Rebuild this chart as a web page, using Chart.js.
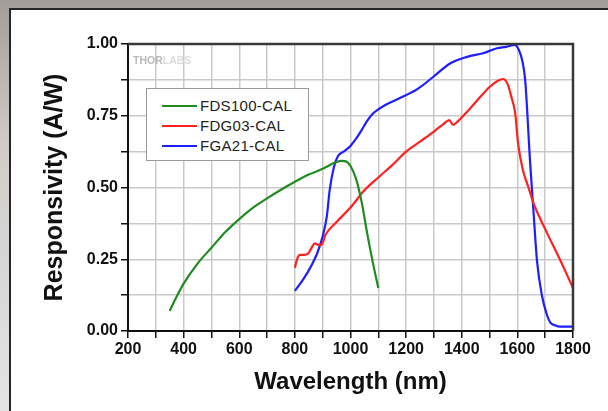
<!DOCTYPE html>
<html>
<head>
<meta charset="utf-8">
<script src="https://cdn.jsdelivr.net/npm/chart.js@4"></script>
<style>
    html, body {margin: 0; padding: 0;}
    body {
        width: 608px; height: 411px; overflow: hidden; position: relative;
        background: linear-gradient(to bottom, #a29d98 0%, #cfccc9 35%, #e4e4e4 100%);
        font-family: "Liberation Sans", Arial, sans-serif;
    }
    .panel {
        position: absolute; left: 9px; top: 8px; width: 620px; height: 420px;
        background: #fff; border: 2px solid #262626;
    }
    #chartWrap {position: absolute; left: 0; top: 0; width: 608px; height: 411px;}
    .watermark {
        position: absolute; left: 133px; top: 54px; font-size: 10.5px; font-weight: bold;
        color: #b9b9b9;
    }
    .watermark span {color: #dcdcdc;}
    .legendBox {
        position: absolute; left: 146px; top: 88px; width: 161px; height: 70px;
        border: 1px solid #9a9a9a; background: #fff; padding-top: 1px;
    }
    .legendRow {height: 20px; line-height: 20px; display: flex; align-items: center; margin-top: 0;}
    .legendRow:first-child {margin-top: 6px;}
    .legendLine {width: 35px; height: 2.5px; margin-left: 15px; margin-right: 3px;}
    .legendText {font-size: 15px; color: #222; letter-spacing: 0.3px;}
</style>
</head>
<body>
<div class="panel"></div>
<div id="chartWrap"><canvas id="myChart" width="608" height="411"></canvas></div>
<div class="watermark">THOR<span>LABS</span></div>
<div class="legendBox" id="legendBox"></div>

<script>
    "use strict";

    // x axis tick labels (nm) and y axis tick labels (A/W)
    const xTickLabels = [200, 400, 600, 800, 1000, 1200, 1400, 1600, 1800];
    const yTickLabels = [0, 0.25, 0.5, 0.75, 1];

    const seriesNames = ["FDS100-CAL", "FDG03-CAL", "FGA21-CAL"];
    const seriesColors = ["#208c20", "#ff2020", "#1e1eff"];

    // FDS100-CAL (green)
    const fds100Wl = [350, 375, 400, 450, 500, 550, 600, 650, 700, 750, 800, 850, 900, 940, 965, 980, 1000, 1020, 1040, 1060, 1080, 1100];
    const fds100Resp = [0.07, 0.12, 0.165, 0.235, 0.29, 0.345, 0.39, 0.43, 0.462, 0.492, 0.52, 0.545, 0.565, 0.585, 0.593, 0.592, 0.575, 0.53, 0.45, 0.34, 0.24, 0.15];

    // FDG03-CAL (red)
    const fdg03Wl = [800, 808, 818, 832, 848, 860, 872, 884, 896, 910, 950, 1000, 1050, 1100, 1150, 1200, 1250, 1300, 1335, 1355, 1369, 1380, 1394, 1430, 1466, 1500, 1530, 1549, 1565, 1580, 1592, 1603, 1620, 1640, 1660, 1700, 1750, 1800];
    const fdg03Resp = [0.22, 0.25, 0.265, 0.265, 0.27, 0.29, 0.305, 0.3, 0.3, 0.335, 0.38, 0.43, 0.49, 0.535, 0.578, 0.625, 0.66, 0.695, 0.722, 0.735, 0.718, 0.725, 0.738, 0.775, 0.815, 0.85, 0.872, 0.878, 0.86, 0.81, 0.76, 0.65, 0.56, 0.5, 0.44, 0.355, 0.255, 0.15];

    // FGA21-CAL (blue)
    const fga21Wl = [800, 830, 855, 880, 900, 915, 925, 940, 955, 975, 1000, 1020, 1040, 1060, 1080, 1100, 1130, 1178, 1239, 1297, 1358, 1419, 1477, 1527, 1560, 1590, 1605, 1618, 1628, 1646, 1657, 1671, 1689, 1705, 1718, 1735, 1754, 1800];
    const fga21Resp = [0.14, 0.18, 0.22, 0.27, 0.33, 0.4, 0.49, 0.57, 0.61, 0.625, 0.645, 0.67, 0.7, 0.732, 0.757, 0.772, 0.79, 0.812, 0.842, 0.885, 0.932, 0.955, 0.968, 0.985, 0.99, 0.997, 0.98, 0.94, 0.875, 0.585, 0.43, 0.24, 0.12, 0.06, 0.03, 0.02, 0.015, 0.015];

    function toPoints(xs, ys) {
        return xs.map(function (x, i) { return {x: x, y: ys[i]}; });
    }

    const seriesData = [
        toPoints(fds100Wl, fds100Resp),
        toPoints(fdg03Wl, fdg03Resp),
        toPoints(fga21Wl, fga21Resp)
    ];

    const tickFont = {family: "'Liberation Sans', Arial, sans-serif", size: 16, weight: "bold"};
    const titleFont = {family: "'Liberation Sans', Arial, sans-serif", weight: "bold", lineHeight: 1};

    // top and right frame of the plot box
    const frameBox = {
        id: "frameBox",
        afterDraw: function (chart) {
            const a = chart.chartArea;
            const ctx = chart.ctx;
            ctx.save();
            ctx.strokeStyle = "#383838";
            ctx.lineWidth = 2.5;
            ctx.beginPath();
            ctx.moveTo(a.left, a.top);
            ctx.lineTo(a.right, a.top);
            ctx.lineTo(a.right, a.bottom);
            ctx.stroke();
            ctx.restore();
        }
    };

    const ctx = document.getElementById("myChart");
    const chart = new Chart(ctx, {
        type: "line",
        data: {
            datasets: seriesNames.map(function (name, i) {
                return {
                    label: name,
                    data: seriesData[i],
                    borderColor: seriesColors[i],
                    backgroundColor: seriesColors[i],
                    borderWidth: 2.2,
                    pointRadius: 0,
                    fill: false,
                    cubicInterpolationMode: "monotone",
                };
            }),
        },
        options: {
            responsive: false,
            animation: false,
            layout: {
                padding: {top: 44, right: 35, left: 0, bottom: 0},
            },
            plugins: {
                legend: {display: false},
                tooltip: {enabled: false},
            },
            scales: {
                x: {
                    type: "linear",
                    min: 200,
                    max: 1800,
                    afterFit: function (scale) { scale.height = 80; },
                    ticks: {
                        stepSize: 100,
                        autoSkip: false,
                        maxRotation: 0,
                        padding: 2,
                        color: "#111",
                        font: tickFont,
                        callback: function (v) {
                            return xTickLabels.indexOf(v) >= 0 ? String(v) : "";
                        },
                    },
                    grid: {
                        color: "#c9c9c9",
                        lineWidth: 1.5,
                        tickColor: "#111",
                        tickLength: 7,
                        tickWidth: 1.5,
                    },
                    border: {color: "#111", width: 2},
                    title: {
                        display: true,
                        text: "Wavelength (nm)",
                        color: "#111",
                        font: Object.assign({size: 24}, titleFont),
                        padding: {top: 0, bottom: 17},
                    },
                },
                y: {
                    min: 0,
                    max: 1,
                    afterFit: function (scale) { scale.width = 128; },
                    ticks: {
                        stepSize: 0.125,
                        autoSkip: false,
                        padding: 3,
                        color: "#111",
                        font: tickFont,
                        callback: function (v) {
                            return yTickLabels.indexOf(v) >= 0 ? v.toFixed(2) : "";
                        },
                    },
                    grid: {
                        color: "#c9c9c9",
                        lineWidth: 1.5,
                        tickColor: "#111",
                        tickLength: 7,
                        tickWidth: 1.5,
                    },
                    border: {color: "#111", width: 2},
                    title: {
                        display: true,
                        text: "Responsivity (A/W)",
                        color: "#111",
                        font: Object.assign({size: 25}, titleFont),
                        padding: {top: 43, bottom: 0},
                    },
                },
            },
        },
        plugins: [frameBox],
    });

    // legend box built from the chart's datasets
    const legendBox = document.getElementById("legendBox");
    chart.data.datasets.forEach(function (ds) {
        const row = document.createElement("div");
        row.className = "legendRow";
        const line = document.createElement("div");
        line.className = "legendLine";
        line.style.background = ds.borderColor;
        const text = document.createElement("span");
        text.className = "legendText";
        text.textContent = ds.label;
        row.appendChild(line);
        row.appendChild(text);
        legendBox.appendChild(row);
    });
</script>
</body>
</html>
